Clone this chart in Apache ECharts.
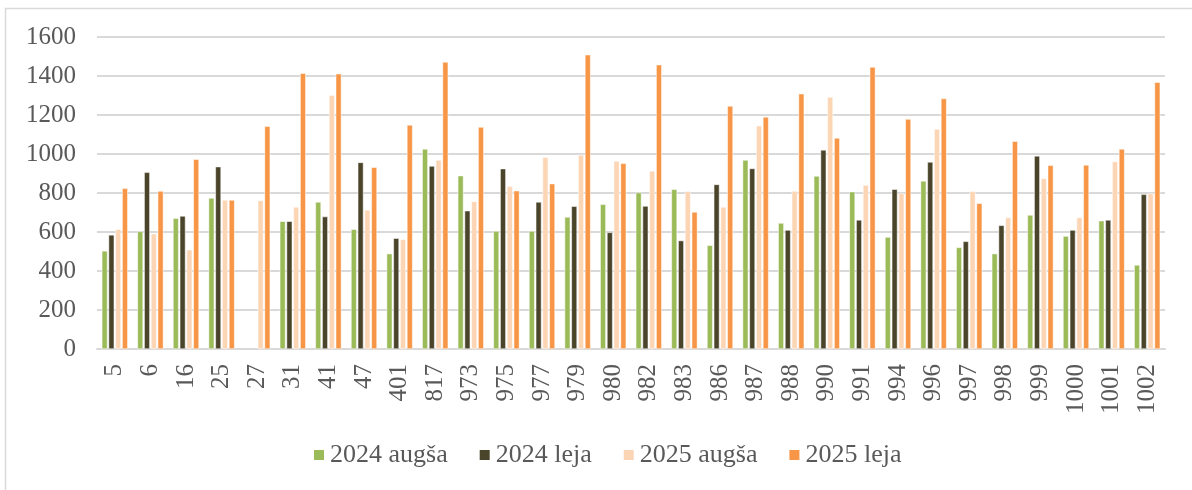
<!DOCTYPE html>
<html>
<head>
<meta charset="utf-8">
<script src="https://cdn.jsdelivr.net/npm/echarts@6/dist/echarts.min.js"></script>
<style>
  html, body { margin: 0; padding: 0; background: #ffffff; }
  #chart { width: 1192px; height: 490px; }
</style>
</head>
<body>
<div id="chart"></div>
<script>
// Sites (x axis categories)
const categories = ['5', '6', '16', '25', '27', '31', '41', '47', '401', '817', '973', '975', '977', '979',
  '980', '982', '983', '986', '987', '988', '990', '991', '994', '996', '997', '998', '999', '1000', '1001', '1002'];

const seriesNames = ['2024 augša', '2024 leja', '2025 augša', '2025 leja'];

const augsa2024 = [503, 603, 670, 774, null, 655, 754, 614, 489, 1026, 889, 605, 605, 677,
  742, 802, 819, 532, 969, 646, 887, 807, 574, 862, 521, 489, 687, 579, 658, 431];
const leja2024 = [585, 906, 682, 935, null, 655, 679, 957, 568, 938, 709, 925, 754, 732,
  598, 733, 556, 844, 926, 610, 1021, 662, 819, 959, 552, 634, 990, 610, 662, 793];
const augsa2025 = [614, 591, 509, 764, 762, 728, 1301, 713, 562, 969, 757, 834, 983, 995,
  964, 913, 809, 728, 1145, 810, 1292, 841, 798, 1128, 809, 674, 875, 675, 961, 798];
const leja2025 = [824, 810, 973, 764, 1142, 1414, 1412, 932, 1149, 1472, 1138, 812, 848, 1509,
  952, 1458, 703, 1246, 1190, 1309, 1082, 1446, 1179, 1285, 747, 1065, 942, 944, 1026, 1368];

const yTicks = { min: 0, max: 1600, interval: 200 };

const colors = ['#9BBB59', '#4A452A', '#FCD5B5', '#F79646'];
const seriesData = [augsa2024, leja2024, augsa2025, leja2025];

const textColor = '#595959';
const fontFamily = '"Liberation Serif", "DejaVu Serif", serif';

const chart = echarts.init(document.getElementById('chart'), null, { renderer: 'canvas' });

chart.setOption({
  animation: false,
  backgroundColor: '#ffffff',
  color: colors,
  graphic: [{
    type: 'rect',
    shape: { x: 5.5, y: 8.5, width: 1300, height: 600 },
    style: { fill: 'none', stroke: '#d9d9d9', lineWidth: 1.5 },
    silent: true
  }],
  grid: { left: 97, right: 27, top: 37, bottom: 141, containLabel: false },
  legend: {
    top: 442,
    left: 312,
    padding: 0,
    icon: 'rect',
    itemWidth: 12,
    itemHeight: 12,
    itemGap: 30,
    textStyle: { color: textColor, fontFamily: fontFamily, fontSize: 26 },
    data: seriesNames
  },
  xAxis: {
    type: 'category',
    data: categories,
    axisLine: { show: true, lineStyle: { color: '#d9d9d9', width: 2 } },
    axisTick: { show: false },
    axisLabel: {
      rotate: 90,
      margin: 15,
      interval: 0,
      color: textColor,
      fontFamily: fontFamily,
      fontSize: 25
    }
  },
  yAxis: {
    type: 'value',
    min: yTicks.min,
    max: yTicks.max,
    interval: yTicks.interval,
    axisLine: { show: false },
    axisTick: { show: false },
    splitLine: { lineStyle: { color: '#d9d9d9', width: 2 } },
    axisLabel: {
      margin: 21,
      color: textColor,
      fontFamily: fontFamily,
      fontSize: 25,
      formatter: v => String(v)
    }
  },
  series: seriesNames.map((name, i) => ({
    name: name,
    type: 'bar',
    data: seriesData[i],
    barGap: '20%',
    barCategoryGap: '27%',
    itemStyle: { color: colors[i], borderColor: '#ffffff', borderWidth: 0.5 }
  }))
});
</script>
</body>
</html>
